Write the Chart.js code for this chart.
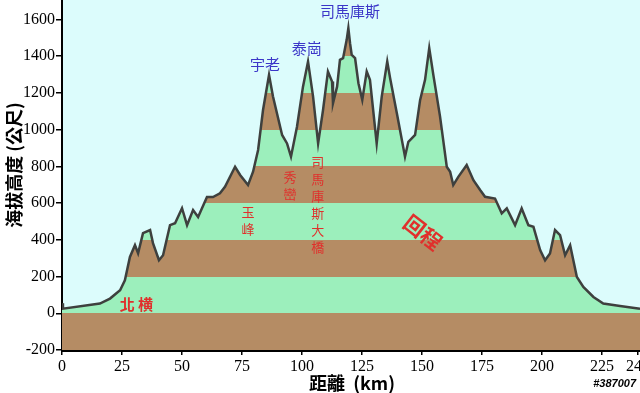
<!DOCTYPE html>
<html>
<head>
<meta charset="utf-8">
<script src="https://cdn.jsdelivr.net/npm/chart.js@4/dist/chart.umd.min.js"></script>
<style>
  html,body{ margin:0; padding:0; background:#fff; overflow:hidden; }
  #wrap{ width:640px; height:393px; position:relative; }
</style>
</head>
<body>
<div id="wrap"><canvas id="profile" width="640" height="393"></canvas></div>
<script>
// elevation profile (distance km / elevation m)
const distKm = [0, 0.4, 15.8, 20, 24.2, 26.2, 28.3, 30.4, 31.7, 33.75, 36.7, 37.9, 40.4, 42.1, 45, 47.1, 50, 52.1, 54.6, 56.7,
  60.4, 62.9, 65.8, 67.9, 72.1, 74.2, 77.5, 79.6, 81.7, 83.75, 86.25, 87.9, 91.7, 93.75, 95.4, 97.9, 100.4, 102.5, 104.6, 106.7,
  108.75, 110.8, 112.5, 112.9, 114.6, 115.8, 117.1, 118.6, 119.3, 120, 120.7, 122.1, 123.5, 125.1, 126.95, 128.3, 131.1, 133.2,
  135.5, 136.7, 139.5, 142.9, 144.3, 147.1, 149.2, 151.25, 153, 154.7, 157.5, 160.3, 161.7, 163, 165.1, 168.6, 171.4, 174.2,
  176.25, 180.4, 183.2, 185.3, 188.75, 191.5, 194.3, 196.4, 199.2, 201.25, 203.3, 205.4, 207.5, 209.6, 211.7, 214.5, 217.2,
  221.4, 225.5, 232.5, 240.8];
const elevM = [55, 25, 53, 80, 125, 180, 307, 371, 327, 436, 453, 382, 289, 316, 480, 490, 572, 480, 562, 524,
  633, 633, 653, 689, 798, 753, 698, 771, 889, 1107, 1298, 1180, 971, 925, 853, 1016, 1234, 1371, 1180, 925,
  1107, 1316, 1262, 1144, 1234, 1380, 1389, 1489, 1553, 1471, 1407, 1389, 1253, 1162, 1316, 1271, 925, 1180,
  1371, 1280, 1089, 853, 934, 971, 1162, 1271, 1444, 1298, 1071, 798, 771, 698, 743, 807, 725, 671,
  634, 625, 544, 571, 480, 571, 480, 471, 344, 289, 326, 453, 425, 316, 371, 198, 143,
  89, 53, 40, 25];

const xTicks = [0, 25, 50, 75, 100, 125, 150, 175, 200, 225, 240];
const yTicks = [-200, 0, 200, 400, 600, 800, 1000, 1200, 1400, 1600];
const bandEdges = [-200, 0, 200, 400, 600, 800, 1000, 1200, 1400, 1600, 1800];

// place names: [text, km, m]
const peakLabels = [['司馬庫斯', 120, 1647], ['泰崗', 102, 1445], ['宇老', 84.6, 1358]];
const stopLabels = [['秀巒', 95, 742], ['司馬庫斯大橋', 106.5, 824], ['玉峰', 77.5, 552]];

const SKY = '#dcfcfc', GREEN = '#9cefbc', BROWN = '#b58c64';

function bandFill(ctx){
  const c = ctx.chart;
  if(!c.chartArea) return GREEN;
  const y = c.scales.y;
  const lo = bandEdges[0], hi = bandEdges[bandEdges.length-1];
  const g = c.ctx.createLinearGradient(0, y.getPixelForValue(lo), 0, y.getPixelForValue(hi));
  for(let i=0;i<bandEdges.length-1;i++){
    const col = i%2===0 ? BROWN : GREEN;
    g.addColorStop((bandEdges[i]-lo)/(hi-lo), col);
    g.addColorStop((bandEdges[i+1]-lo)/(hi-lo), col);
  }
  return g;
}

const decor = {
  id:'decor',
  beforeDraw(chart){
    const {ctx, chartArea:a} = chart;
    ctx.save();
    ctx.fillStyle = '#fff'; ctx.fillRect(0,0,chart.width,chart.height);
    ctx.fillStyle = SKY; ctx.fillRect(a.left, a.top, a.right-a.left, a.bottom-a.top);
    ctx.restore();
  },
  afterDraw(chart){
    const {ctx} = chart;
    const xs = chart.scales.x, ys = chart.scales.y;
    ctx.save();
    ctx.textAlign = 'center'; ctx.textBaseline = 'middle';
    // peaks (blue)
    ctx.fillStyle = '#3b36c8';
    ctx.font = '15px "Noto Sans CJK TC"';
    peakLabels.forEach(p => ctx.fillText(p[0], xs.getPixelForValue(p[1]), ys.getPixelForValue(p[2])));
    // vertical red names
    ctx.fillStyle = '#e0302c';
    ctx.font = '13px "Noto Sans CJK TC"';
    stopLabels.forEach(p => {
      const x = xs.getPixelForValue(p[1]); let y = ys.getPixelForValue(p[2]);
      [...p[0]].forEach(ch => { ctx.fillText(ch, x, y); y += 17; });
    });
    ctx.font = 'bold 15px "Noto Sans CJK TC"';
    ctx.fillText('北 横', xs.getPixelForValue(31), ys.getPixelForValue(50));
    // 回程 (tilted)
    ctx.save();
    ctx.translate(xs.getPixelForValue(150.4), ys.getPixelForValue(440));
    ctx.rotate(38*Math.PI/180);
    ctx.font = 'bold 21px "Noto Sans CJK TC"';
    ctx.fillText('回程', 0, 0);
    ctx.restore();
    // axis titles
    ctx.fillStyle = '#000';
    ctx.font = 'bold 18px "Noto Sans CJK TC"';
    ctx.fillText('距離  (km)', 352, 383);
    ctx.save();
    ctx.translate(14, 165); ctx.rotate(-Math.PI/2);
    ctx.fillText('海拔高度 (公尺)', 0, 0);
    ctx.restore();
    ctx.font = 'italic bold 11px "Liberation Sans"';
    ctx.textAlign = 'right';
    ctx.strokeStyle = '#fff'; ctx.lineWidth = 2;
    ctx.strokeText('#387007', 636, 384);
    ctx.fillText('#387007', 636, 384);
    ctx.restore();
  }
};

const tickFont = { family:'"Liberation Serif", serif', size:16 };

new Chart(document.getElementById('profile').getContext('2d'), {
  type:'line',
  data:{
    datasets:[{
      data: distKm.map((d,i)=>({x:d, y:elevM[i]})),
      borderColor:'#3e403e', borderWidth:2.5,
      backgroundColor: bandFill,
      fill:'start', pointRadius:0, tension:0
    }]
  },
  options:{
    responsive:false, animation:false,
    layout:{ padding:0 },
    plugins:{ legend:{display:false}, tooltip:{enabled:false} },
    scales:{
      x:{
        type:'linear', min:0, max:240.8,
        afterBuildTicks: s => { s.ticks = xTicks.map(v=>({value:v})); },
        afterFit: s => { s.height = 43; s.paddingLeft = 0; s.paddingRight = 0; },
        ticks:{ color:'#000', font:tickFont, padding:2, maxRotation:0, autoSkip:false, callback: v => String(v) },
        grid:{ drawOnChartArea:false, drawTicks:true, tickLength:5, color:'#000', lineWidth:1.5 },
        border:{ display:true, color:'#000', width:3 }
      },
      y:{
        type:'linear', min:-200, max:1706,
        afterBuildTicks: s => { s.ticks = yTicks.map(v=>({value:v})); },
        afterFit: s => { s.width = 62; s.paddingTop = 0; s.paddingBottom = 0; },
        ticks:{ color:'#000', font:tickFont, padding:1, autoSkip:false, callback: v => String(v) },
        grid:{ drawOnChartArea:false, drawTicks:true, tickLength:6, color:'#000', lineWidth:1.5 },
        border:{ display:true, color:'#000', width:2 }
      }
    }
  },
  plugins:[decor]
});
</script>
</body>
</html>
